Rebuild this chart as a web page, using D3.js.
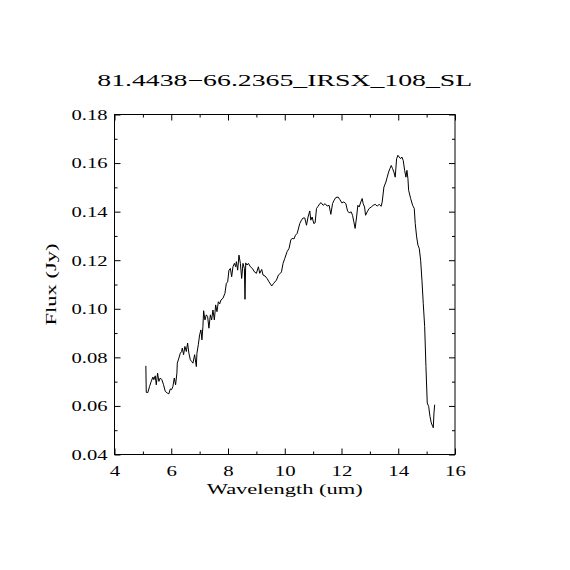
<!DOCTYPE html>
<html>
<head>
<meta charset="utf-8">
<style>
  body { margin: 0; background: #fff; }
  svg { display: block; }
  text { font-family: "Liberation Serif", serif; fill: #000; }
</style>
</head>
<body>
<svg width="570" height="570"></svg>
<script src="https://d3js.org/d3.v7.min.js"></script>
<script>

var title = "81.4438\u221266.2365_IRSX_108_SL",
    xTitle = "Wavelength (um)",
    yTitle = "Flux (Jy)";

// wavelength in um, flux in Jy
var wavelength = [
  5.105, 5.119, 5.175, 5.235, 5.295, 5.352, 5.387, 5.436, 5.472, 5.518,
  5.564, 5.613, 5.669, 5.729, 5.789, 5.860, 5.916, 5.966, 6.012, 6.058,
  6.107, 6.153, 6.199, 6.213, 6.269, 6.319, 6.365, 6.389, 6.435, 6.481,
  6.531, 6.576, 6.622, 6.672, 6.718, 6.764, 6.824, 6.884, 6.905, 6.954,
  7.000, 7.046, 7.081, 7.116, 7.141, 7.187, 7.236, 7.282, 7.328, 7.378,
  7.424, 7.469, 7.519, 7.565, 7.611, 7.660, 7.706, 7.752, 7.822, 7.893,
  7.942, 7.988, 8.034, 8.084, 8.129, 8.175, 8.225, 8.271, 8.295, 8.341,
  8.387, 8.436, 8.482, 8.528, 8.578, 8.599, 8.624, 8.669, 8.719, 8.789,
  8.860, 8.931, 9.001, 9.072, 9.118, 9.188, 9.234, 9.305, 9.375, 9.446,
  9.541, 9.612, 9.707, 9.778, 9.848, 9.884, 9.940, 10.000, 10.081, 10.152,
  10.212, 10.258, 10.328, 10.378, 10.434, 10.469, 10.529, 10.589, 10.646, 10.706,
  10.766, 10.822, 10.882, 10.918, 10.964, 11.024, 11.070, 11.119, 11.175, 11.235,
  11.281, 11.352, 11.422, 11.493, 11.564, 11.624, 11.684, 11.740, 11.800, 11.881,
  11.941, 12.012, 12.082, 12.153, 12.213, 12.269, 12.340, 12.389, 12.435, 12.481,
  12.531, 12.576, 12.622, 12.682, 12.728, 12.764, 12.813, 12.848, 12.905, 12.975,
  13.046, 13.117, 13.187, 13.258, 13.328, 13.399, 13.434, 13.494, 13.565, 13.611,
  13.660, 13.706, 13.752, 13.801, 13.847, 13.893, 13.942, 13.988, 14.034, 14.084,
  14.129, 14.175, 14.225, 14.271, 14.306, 14.341, 14.366, 14.437, 14.507, 14.564,
  14.599, 14.648, 14.694, 14.740, 14.789, 14.835, 14.881, 14.931, 14.976, 15.022,
  15.072, 15.118, 15.164, 15.213, 15.234, 15.259, 15.284
];

var flux = [
  0.0765, 0.0656, 0.0655, 0.0680, 0.0701, 0.0719, 0.0708, 0.0724, 0.0687, 0.0735,
  0.0701, 0.0715, 0.0708, 0.0687, 0.0660, 0.0653, 0.0650, 0.0670, 0.0667, 0.0680,
  0.0715, 0.0687, 0.0735, 0.0776, 0.0797, 0.0817, 0.0824, 0.0838, 0.0811, 0.0845,
  0.0824, 0.0859, 0.0817, 0.0790, 0.0783, 0.0776, 0.0811, 0.0762, 0.0817, 0.0852,
  0.0893, 0.0913, 0.0872, 0.0927, 0.0992, 0.0954, 0.0975, 0.0968, 0.0920, 0.0975,
  0.0954, 0.0995, 0.0954, 0.1016, 0.0988, 0.1029, 0.1020, 0.1036, 0.1043, 0.1064,
  0.1105, 0.1111, 0.1159, 0.1166, 0.1132, 0.1173, 0.1187, 0.1173, 0.1194, 0.1159,
  0.1221, 0.1187, 0.1125, 0.1187, 0.1166, 0.1039, 0.1189, 0.1180, 0.1187, 0.1173,
  0.1166, 0.1152, 0.1146, 0.1173, 0.1146, 0.1162, 0.1139, 0.1135, 0.1125, 0.1111,
  0.1094, 0.1105, 0.1118, 0.1139, 0.1146, 0.1152, 0.1187, 0.1207, 0.1235, 0.1249,
  0.1283, 0.1290, 0.1288, 0.1303, 0.1310, 0.1324, 0.1351, 0.1365, 0.1374, 0.1374,
  0.1344, 0.1378, 0.1403, 0.1365, 0.1378, 0.1351, 0.1354, 0.1413, 0.1422, 0.1433,
  0.1437, 0.1426, 0.1433, 0.1423, 0.1426, 0.1389, 0.1433, 0.1447, 0.1458, 0.1460,
  0.1450, 0.1436, 0.1440, 0.1433, 0.1403, 0.1395, 0.1399, 0.1385, 0.1358, 0.1331,
  0.1378, 0.1426, 0.1419, 0.1440, 0.1454, 0.1433, 0.1419, 0.1385, 0.1399, 0.1413,
  0.1419, 0.1426, 0.1430, 0.1423, 0.1430, 0.1422, 0.1440, 0.1501, 0.1522, 0.1542,
  0.1563, 0.1577, 0.1590, 0.1577, 0.1563, 0.1542, 0.1618, 0.1632, 0.1625, 0.1618,
  0.1625, 0.1611, 0.1570, 0.1542, 0.1570, 0.1536, 0.1488, 0.1454, 0.1426, 0.1413,
  0.1351, 0.1296, 0.1262, 0.1249, 0.1200, 0.1118, 0.1023, 0.0927, 0.0762, 0.0612,
  0.0598, 0.0557, 0.0530, 0.0516, 0.0510, 0.0571, 0.0605
];

var xTicks = [4, 6, 8, 10, 12, 14, 16],
    xMinor = [5, 7, 9, 11, 13, 15],
    yTicks = [0.04, 0.06, 0.08, 0.10, 0.12, 0.14, 0.16, 0.18],
    yMinor = [0.05, 0.07, 0.09, 0.11, 0.13, 0.15, 0.17];

var svg = d3.select("svg"),
    x0 = 114.5,
    x1 = 455,
    y0 = 454.5,
    y1 = 114.5;

var x = d3.scaleLinear().domain([4, 16]).range([x0, x1]);
var y = d3.scaleLinear().domain([0.04, 0.18]).range([y0, y1]);

var major = 6, minor = 3;
var charW = 10.4;   // width of one character in the tick labels

function style(g) {
  g.select(".domain").remove();
  g.selectAll("line").attr("stroke", "#000").attr("stroke-width", 1);
  g.selectAll("text").style("font-family", "Liberation Serif").attr("font-size", 15)
    .attr("fill", "#000")
    .attr("lengthAdjust", "spacingAndGlyphs")
    .attr("textLength", function() { return this.textContent.length * charW; });
}

// bottom axis with labels
svg.append("g")
    .attr("transform", "translate(0," + y0 + ")")
    .call(d3.axisBottom(x).tickValues(xTicks).tickSize(-major).tickPadding(11)
      .tickFormat(d3.format("d")))
    .call(style);
svg.append("g")
    .attr("transform", "translate(0," + y0 + ")")
    .call(d3.axisBottom(x).tickValues(xMinor).tickSize(-minor).tickFormat(""))
    .call(style);

// top axis, ticks only
svg.append("g")
    .attr("transform", "translate(0," + y1 + ")")
    .call(d3.axisTop(x).tickValues(xTicks).tickSize(-major).tickFormat(""))
    .call(style);
svg.append("g")
    .attr("transform", "translate(0," + y1 + ")")
    .call(d3.axisTop(x).tickValues(xMinor).tickSize(-minor).tickFormat(""))
    .call(style);

// left axis with labels
svg.append("g")
    .attr("transform", "translate(" + x0 + ",0)")
    .call(d3.axisLeft(y).tickValues(yTicks).tickSize(-major).tickPadding(7)
      .tickFormat(d3.format(".2f")))
    .call(style)
    .selectAll("text").attr("textLength", 36);
svg.append("g")
    .attr("transform", "translate(" + x0 + ",0)")
    .call(d3.axisLeft(y).tickValues(yMinor).tickSize(-minor).tickFormat(""))
    .call(style);

// right axis, ticks only
svg.append("g")
    .attr("transform", "translate(" + x1 + ",0)")
    .call(d3.axisRight(y).tickValues(yTicks).tickSize(-major).tickFormat(""))
    .call(style);
svg.append("g")
    .attr("transform", "translate(" + x1 + ",0)")
    .call(d3.axisRight(y).tickValues(yMinor).tickSize(-minor).tickFormat(""))
    .call(style);

// frame
svg.append("rect")
    .attr("x", x0).attr("y", y1)
    .attr("width", x1 - x0).attr("height", y0 - y1)
    .attr("fill", "none").attr("stroke", "#000").attr("stroke-width", 1);

// spectrum
var pts = wavelength.map(function(w, i) { return [w, flux[i]]; });
svg.append("path")
    .datum(pts)
    .attr("fill", "none")
    .attr("stroke", "#000")
    .attr("stroke-width", 1)
    .attr("d", d3.line().x(function(d) { return x(d[0]); }).y(function(d) { return y(d[1]); }));

// titles
svg.append("text")
    .attr("x", (x0 + x1) / 2).attr("y", 86)
    .attr("text-anchor", "middle")
    .attr("font-size", 16.5)
    .attr("textLength", 375)
    .attr("lengthAdjust", "spacingAndGlyphs")
    .text(title);

svg.append("text")
    .attr("x", (x0 + x1) / 2).attr("y", 494)
    .attr("text-anchor", "middle")
    .attr("font-size", 15.5)
    .attr("textLength", 156)
    .attr("lengthAdjust", "spacingAndGlyphs")
    .text(xTitle);

svg.append("text")
    .attr("transform", "translate(56," + ((y0 + y1) / 2) + ") rotate(-90)")
    .attr("text-anchor", "middle")
    .attr("font-size", 15.5)
    .attr("textLength", 82)
    .attr("lengthAdjust", "spacingAndGlyphs")
    .text(yTitle);

</script>
</body>
</html>
